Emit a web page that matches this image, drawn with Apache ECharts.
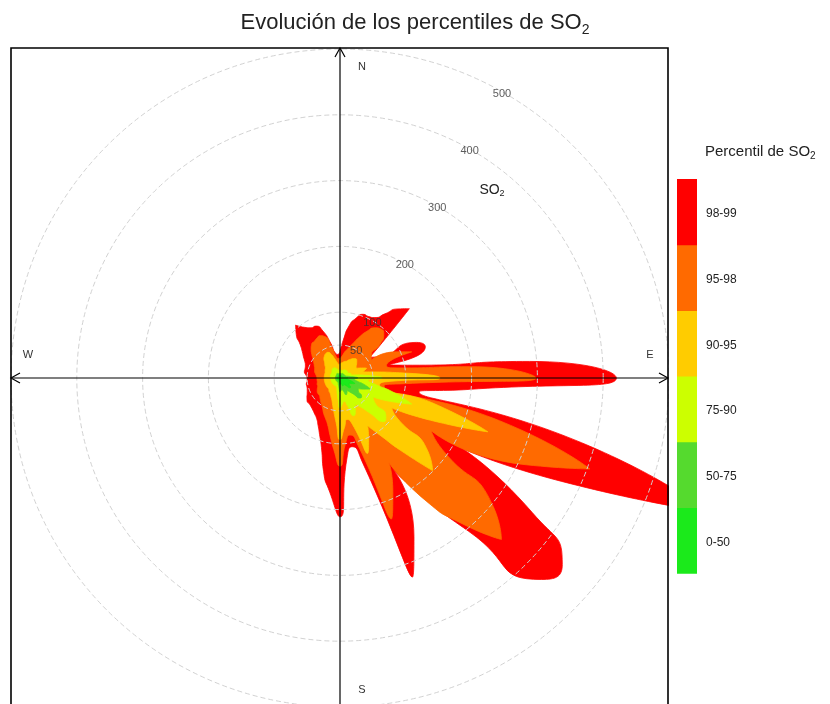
<!DOCTYPE html>
<html>
<head>
<meta charset="utf-8">
<title>Evolución de los percentiles de SO2</title>
<script src="https://cdn.jsdelivr.net/npm/echarts@6.0.0/dist/echarts.min.js"></script>
<style>
html, body { margin: 0; padding: 0; background: #ffffff; }
#chart { width: 830px; height: 704px; }
</style>
</head>
<body>
<div id="chart"></div>
<script>
// Wind direction, degrees clockwise from north
const directions = [
  0, 5, 10, 15, 20, 25, 30, 35, 40, 45, 50, 55,
  60, 65, 70, 75, 80, 85, 90, 95, 100, 105, 110, 115,
  120, 125, 130, 135, 140, 145, 150, 155, 160, 165, 170, 175,
  180, 185, 190, 195, 200, 205, 210, 215, 220, 225, 230, 235,
  240, 245, 250, 255, 260, 265, 270, 275, 280, 285, 290, 295,
  300, 305, 310, 315, 320, 325, 330, 335, 340, 345, 350, 355
];

// SO2 concentration at each percentile, per direction
const p99 = [
  40, 58, 81, 94, 103, 103, 106, 119, 137, 149, 84, 55,
  64, 128, 138, 79, 112, 289, 420, 198, 122, 380, 593, 372,
  213, 357, 441, 433, 304, 220, 160, 266, 322, 134, 106, 122,
  211, 175, 144, 109, 91, 79, 71, 67, 64, 62, 61, 61,
  58, 55, 53, 52, 52, 50, 50, 52, 55, 55, 56, 59,
  64, 70, 79, 94, 105, 94, 88, 87, 76, 55, 38, 36
];
const p98 = [
  30, 33, 40, 46, 55, 68, 82, 93, 97, 94, 79, 58,
  55, 94, 116, 73, 88, 198, 298, 99, 68, 251, 404, 312,
  160, 190, 304, 347, 289, 228, 149, 190, 228, 106, 88, 99,
  134, 109, 88, 73, 65, 59, 53, 49, 46, 43, 41, 41,
  40, 38, 36, 36, 35, 35, 35, 36, 38, 40, 41, 43,
  46, 50, 56, 62, 67, 68, 70, 71, 67, 49, 33, 30
];
const p95 = [
  21, 23, 24, 26, 27, 30, 33, 36, 38, 36, 33, 30,
  30, 36, 43, 36, 53, 91, 152, 68, 61, 144, 239, 152,
  91, 106, 175, 199, 144, 106, 84, 103, 122, 73, 64, 76,
  94, 68, 53, 43, 36, 32, 29, 27, 26, 24, 24, 24,
  24, 24, 24, 24, 24, 24, 24, 24, 24, 24, 24, 25,
  26, 27, 30, 33, 38, 41, 43, 43, 38, 30, 24, 21
];
const p90 = [
  12, 12, 12, 12, 12, 14, 14, 15, 15, 15, 15, 14,
  15, 17, 18, 18, 27, 43, 64, 43, 53, 84, 116, 84,
  58, 64, 91, 94, 68, 53, 46, 55, 61, 43, 36, 40,
  46, 33, 24, 18, 15, 14, 14, 14, 14, 14, 14, 14,
  14, 14, 14, 14, 14, 14, 15, 15, 15, 15, 15, 15,
  15, 15, 16, 17, 18, 18, 18, 17, 15, 14, 12, 12
];
const p75 = [
  7, 7, 7, 7, 7, 7, 8, 8, 8, 8, 8, 8,
  8, 8, 9, 9, 14, 20, 27, 22, 26, 38, 49, 40,
  32, 34, 43, 43, 32, 26, 22, 25, 27, 21, 18, 19,
  21, 16, 12, 10, 8, 7, 7, 7, 7, 7, 7, 7,
  7, 7, 7, 7, 7, 7, 7, 7, 7, 7, 7, 7,
  7, 7, 7, 7, 8, 8, 8, 8, 7, 7, 7, 7
];
const p50 = [
  4, 4, 4, 4, 4, 4, 4, 4, 4, 4, 4, 4,
  4, 4, 4, 4, 6, 9, 12, 10, 12, 18, 24, 20,
  16, 17, 21, 21, 16, 13, 11, 12, 13, 10, 8, 9,
  10, 8, 6, 5, 4, 4, 4, 4, 4, 4, 4, 4,
  4, 4, 4, 4, 4, 4, 4, 4, 4, 4, 4, 4,
  4, 4, 4, 4, 4, 4, 4, 4, 4, 4, 4, 4
];

// Percentile bands, lowest first
const bandLabels = ['0-50', '50-75', '75-90', '90-95', '95-98', '98-99'];
const bandColors = ['#1bea1b', '#55da2e', '#ccff00', '#ffcc00', '#ff6a00', '#ff0000'];

// Concentration rings that carry a label
const ringValues = [50, 100, 200, 300, 400, 500];

const FONT = '"Liberation Sans", Arial, Helvetica, sans-serif';
const CX = 340, CY = 378, PX_PER_UNIT = 0.658, RMAX = 600, RING_STEP = 50;
const R = RMAX * PX_PER_UNIT;
const BOX_L = 11, BOX_T = 48, BOX_R = 668, BOX_B = 760;
const LABEL_BEARING = 29.5;

// Closed outline: repeat the first direction at 360 degrees
function closedRose(values) {
  const pts = directions.map((d, i) => [values[i], d]);
  pts.push([values[0], 360]);
  return pts;
}

// Outermost percentile drawn first, inner ones on top
const levels = [p99, p98, p95, p90, p75, p50];
const roseSeries = levels.map((vals, k) => {
  const color = bandColors[bandColors.length - 1 - k];
  return {
    type: 'line',
    coordinateSystem: 'polar',
    data: closedRose(vals),
    smooth: 0.65,
    symbol: 'none',
    clip: false,
    silent: true,
    z: 2 + k,
    lineStyle: { color: color, width: 0.8 },
    areaStyle: { color: color, opacity: 1 }
  };
});

// Ring labels sit on their rings along one bearing
const ringLabelSeries = {
  type: 'scatter',
  coordinateSystem: 'polar',
  data: ringValues.map(v => [v, LABEL_BEARING]),
  symbolSize: 1,
  silent: true,
  z: 11,
  itemStyle: { color: 'rgba(0,0,0,0)' },
  label: {
    show: true,
    position: 'inside',
    offset: [0, 2],
    formatter: p => String(p.value[0]),
    fontSize: 11,
    fontFamily: FONT,
    color: '#333'
  }
};

// Only the labelled concentrations get a visible ring
const ringColors = [];
for (let v = 0; v <= RMAX; v += RING_STEP) {
  ringColors.push(ringValues.indexOf(v) >= 0 ? '#d2d2d2' : 'rgba(0,0,0,0)');
}

// Compass axes with open arrowheads
const axisStyle = { stroke: '#000', lineWidth: 1.2, fill: null };
const AH = 9, AW = 5;
const graphics = [
  { type: 'line', z: 12, silent: true, shape: { x1: BOX_L, y1: CY, x2: BOX_R, y2: CY }, style: axisStyle },
  { type: 'line', z: 12, silent: true, shape: { x1: CX, y1: BOX_T, x2: CX, y2: 704 }, style: axisStyle },
  { type: 'polyline', z: 12, silent: true, shape: { points: [[BOX_L + AH, CY - AW], [BOX_L, CY], [BOX_L + AH, CY + AW]] }, style: axisStyle },
  { type: 'polyline', z: 12, silent: true, shape: { points: [[BOX_R - AH, CY - AW], [BOX_R, CY], [BOX_R - AH, CY + AW]] }, style: axisStyle },
  { type: 'polyline', z: 12, silent: true, shape: { points: [[CX - AW, BOX_T + AH], [CX, BOX_T], [CX + AW, BOX_T + AH]] }, style: axisStyle },
  // blank margin to the right of the panel
  { type: 'rect', z: 20, silent: true, shape: { x: BOX_R + 1, y: 0, width: 830 - BOX_R - 1, height: 704 }, style: { fill: '#ffffff' } },
  // panel frame
  { type: 'rect', z: 21, silent: true, shape: { x: BOX_L, y: BOX_T, width: BOX_R - BOX_L, height: BOX_B - BOX_T }, style: { fill: null, stroke: '#000', lineWidth: 1.6 } }
];

// Compass letters
const compassPos = { N: [362, 67], E: [650, 355], S: [362, 690], W: [28, 355] };
Object.keys(compassPos).forEach(k => {
  graphics.push({
    type: 'text', z: 21, silent: true,
    style: { text: k, x: compassPos[k][0], y: compassPos[k][1], fill: '#333', font: '11px ' + FONT, align: 'center', verticalAlign: 'middle' }
  });
});

// Pollutant name inside the panel
graphics.push({
  type: 'text', z: 21, silent: true,
  style: {
    text: '{a|SO}{b|2}', x: 492, y: 190, align: 'center', verticalAlign: 'middle',
    rich: {
      a: { fontSize: 14, fontFamily: FONT, fill: '#222', lineHeight: 17 },
      b: { fontSize: 9, fontFamily: FONT, fill: '#222', lineHeight: 9, verticalAlign: 'bottom' }
    }
  }
});

// Colour key
const BAR_X = 677, BAR_Y = 179, BAR_W = 20, SEG_H = 65.7;
bandLabels.forEach((lab, i) => {
  const top = BAR_Y + (bandLabels.length - 1 - i) * SEG_H;
  graphics.push({
    type: 'rect', z: 21, silent: true,
    shape: { x: BAR_X, y: top, width: BAR_W, height: SEG_H + 0.5 },
    style: { fill: bandColors[i] }
  });
  graphics.push({
    type: 'text', z: 21, silent: true,
    style: { text: lab, x: 706, y: top + SEG_H / 2 + 2, fill: '#222', font: '12px ' + FONT, align: 'left', verticalAlign: 'middle' }
  });
});
graphics.push({
  type: 'text', z: 21, silent: true,
  style: {
    text: '{a|Percentil de SO}{b|2}', x: 705, y: 152, align: 'left', verticalAlign: 'middle',
    rich: {
      a: { fontSize: 15, fontFamily: FONT, fill: '#222', lineHeight: 19 },
      b: { fontSize: 10, fontFamily: FONT, fill: '#222', lineHeight: 10, verticalAlign: 'bottom' }
    }
  }
});

const chart = echarts.init(document.getElementById('chart'), null, { renderer: 'canvas' });
chart.setOption({
  animation: false,
  backgroundColor: '#ffffff',
  textStyle: { fontFamily: FONT },
  title: {
    text: '{a|Evolución de los percentiles de SO}{b|2}',
    left: 'center',
    top: 4,
    textStyle: {
      fontWeight: 'normal',
      rich: {
        a: { fontSize: 22, fontWeight: 'normal', fontFamily: FONT, color: '#222', lineHeight: 28 },
        b: { fontSize: 14, fontWeight: 'normal', fontFamily: FONT, color: '#222', lineHeight: 14, verticalAlign: 'bottom' }
      }
    }
  },
  polar: { center: [CX, CY], radius: R },
  angleAxis: {
    type: 'value', min: 0, max: 360, startAngle: 90, clockwise: true,
    axisLine: { show: false }, axisTick: { show: false }, axisLabel: { show: false }, splitLine: { show: false }
  },
  radiusAxis: {
    type: 'value', min: 0, max: RMAX, interval: RING_STEP, z: 10,
    axisLine: { show: false }, axisTick: { show: false }, axisLabel: { show: false },
    splitLine: { show: true, lineStyle: { color: ringColors, type: [5, 3], width: 1 } }
  },
  series: roseSeries.concat([ringLabelSeries]),
  graphic: { elements: graphics }
});
</script>
</body>
</html>
